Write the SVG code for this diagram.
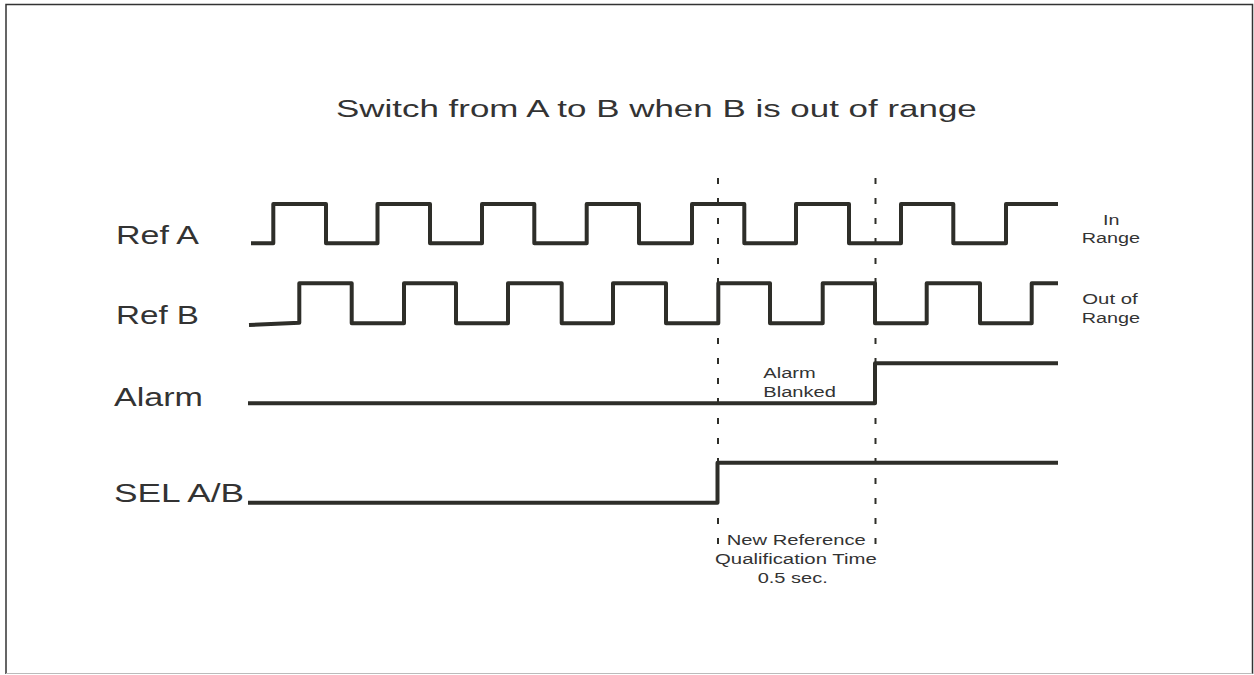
<svg xmlns="http://www.w3.org/2000/svg" width="1254" height="675" viewBox="0 0 1254 675">
<style>
.wave{fill:none;stroke:#2e2e29;stroke-width:4;stroke-linejoin:round;stroke-linecap:butt}
.dash{fill:none;stroke:#2e2e29;stroke-width:2;stroke-dasharray:6 14}
text{font-family:"Liberation Sans",Arial,sans-serif;fill:#333}
.big{font-size:25px}
.small{font-size:14px}
</style>
<rect width="1254" height="675" fill="#fff"/>
<g id="frame">
<path d="M6,674 V4.5 H1252.5 V674" fill="none" stroke="#333" stroke-width="1.5"/>
<line x1="6" y1="673.5" x2="1252.5" y2="673.5" stroke="#bbb" stroke-width="1"/>
</g>
<g id="title"><text transform="translate(336,117) scale(1.44,1)" style="font-size:24px" textLength="445" lengthAdjust="spacingAndGlyphs">Switch from A to B when B is out of range</text></g>
<g id="labels">
<text class="big" transform="translate(116,244) scale(1.33,1)" textLength="62.4" lengthAdjust="spacingAndGlyphs">Ref A</text>
<text class="big" transform="translate(116,323.5) scale(1.33,1)" textLength="62.4" lengthAdjust="spacingAndGlyphs">Ref B</text>
<text class="big" transform="translate(114,406) scale(1.36,1)" textLength="65.4" lengthAdjust="spacingAndGlyphs">Alarm</text>
<text class="big" transform="translate(114,502) scale(1.36,1)" textLength="95.6" lengthAdjust="spacingAndGlyphs">SEL A/B</text>
</g>
<g id="connectors">
<path id="refA" class="wave" d="M251,243.3 H273.3 V204 H326 V243.3 H377.5 V204 H430 V243.3 H482 V204 H534.3 V243.3 H586.7 V204 H639 V243.3 H692 V204 H744.3 V243.3 H796 V204 H849 V243.3 H901 V204 H953.3 V243.3 H1006 V204 H1058"/>
<path id="refB" class="wave" d="M249,325 L299.3,322.8 V283.3 H351.7 V323.3 H404 V283.3 H456 V323.3 H508 V283.3 H561.7 V323.3 H613 V283.3 H666 V323.3 H718.3 V283.3 H770 V323.3 H822.7 V283.3 H875 V323.3 H926.7 V283.3 H980 V323.3 H1031.7 V283.3 H1058"/>
<path id="alarm" class="wave" d="M248,403.3 H875 V363.3 H1058"/>
<path id="sel" class="wave" d="M248,502.7 H717.5 V462.7 H1058"/>
<line class="dash" x1="718" y1="178" x2="718" y2="550"/>
<line class="dash" x1="875.5" y1="178" x2="875.5" y2="550"/>
</g>
<g id="annotations">
<text class="small" transform="translate(1103,225) scale(1.42,1)" textLength="11.6" lengthAdjust="spacingAndGlyphs">In</text>
<text class="small" transform="translate(1081.7,242.7) scale(1.42,1)" textLength="41.1" lengthAdjust="spacingAndGlyphs">Range</text>
<text class="small" transform="translate(1082.3,304) scale(1.42,1)" textLength="39" lengthAdjust="spacingAndGlyphs">Out of</text>
<text class="small" transform="translate(1081.7,322.7) scale(1.42,1)" textLength="41.1" lengthAdjust="spacingAndGlyphs">Range</text>
<text class="small" transform="translate(763.3,378.3) scale(1.42,1)" textLength="36.9" lengthAdjust="spacingAndGlyphs">Alarm</text>
<text class="small" transform="translate(763.3,397.3) scale(1.42,1)" textLength="51.2" lengthAdjust="spacingAndGlyphs">Blanked</text>
<text class="small" transform="translate(726.7,545) scale(1.42,1)" textLength="97.9" lengthAdjust="spacingAndGlyphs">New Reference</text>
<text class="small" transform="translate(715,564) scale(1.42,1)" textLength="113.9" lengthAdjust="spacingAndGlyphs">Qualification Time</text>
<text class="small" transform="translate(757.7,582.7) scale(1.42,1)" textLength="49.3" lengthAdjust="spacingAndGlyphs">0.5 sec.</text>
</g>
</svg>
